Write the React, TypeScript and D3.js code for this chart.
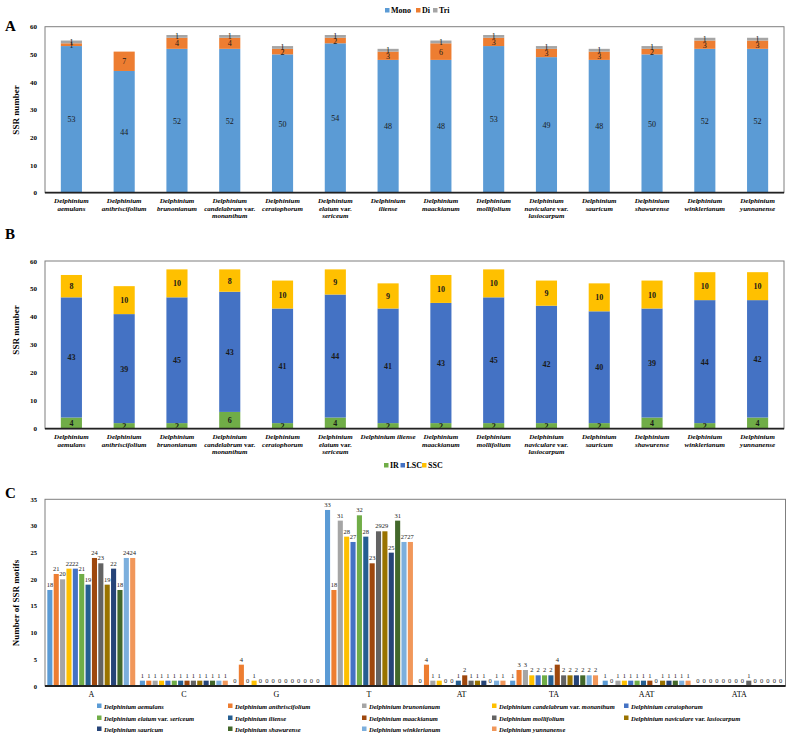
import React from "react";
import * as d3 from "d3";

const species = [
  "aemulans", "anthriscifolium", "brunonianum", "candelabrum var. monanthum", "ceratophorum",
  "elatum var. sericeum", "iliense", "maackianum", "mollifolium", "naviculare var. lasiocarpum",
  "sauricum", "shawurense", "winklerianum", "yunnanense",
];
// x labels (lines) for panel A and B
const labelsA: string[][] = [
  ["Delphinium", "aemulans"], ["Delphinium", "anthriscifolium"], ["Delphinium", "brunonianum"],
  ["Delphinium", "candelabrum var.", "monanthum"], ["Delphinium", "ceratophorum"],
  ["Delphinium", "elatum  var.", "sericeum"], ["Delphinium", "iliense"], ["Delphinium", "maackianum"],
  ["Delphinium", "mollifolium"], ["Delphinium", "naviculare  var.", "lasiocarpum"], ["Delphinium", "sauricum"],
  ["Delphinium", "shawurense"], ["Delphinium", "winklerianum"], ["Delphinium", "yunnanense"],
];
const labelsB: string[][] = [
  ["Delphinium", "aemulans"], ["Delphinium", "anthriscifolium"], ["Delphinium", "brunonianum"],
  ["Delphinium", "candelabrum var.", "monanthum"], ["Delphinium", "ceratophorum"],
  ["Delphinium", "elatum var.", "sericeum"], ["Delphinium iliense"], ["Delphinium", "maackianum"],
  ["Delphinium", "mollifolium"], ["Delphinium", "naviculare var.", "lasiocarpum"], ["Delphinium", "sauricum"],
  ["Delphinium", "shawurense"], ["Delphinium", "winklerianum"], ["Delphinium", "yunnanense"],
];

// Panel A
const monoCounts = [53, 44, 52, 52, 50, 54, 48, 48, 53, 49, 48, 50, 52, 52];
const diCounts = [1, 7, 4, 4, 2, 2, 3, 6, 3, 3, 3, 2, 3, 3];
const triCounts = [1, 0, 1, 1, 1, 1, 1, 1, 1, 1, 1, 1, 1, 1];
const seriesA = ["Mono", "Di", "Tri"];
const colorsA = ["#5B9BD5", "#ED7D31", "#A5A5A5"];

// Panel B
const irCounts = [4, 2, 2, 6, 2, 4, 2, 2, 2, 2, 2, 4, 2, 4];
const lscCounts = [43, 39, 45, 43, 41, 44, 41, 43, 45, 42, 40, 39, 44, 42];
const sscCounts = [8, 10, 10, 8, 10, 9, 9, 10, 10, 9, 10, 10, 10, 10];
const seriesB = ["IR", "LSC", "SSC"];
const colorsB = ["#70AD47", "#4472C4", "#FFC000"];

// Panel C
const motifs = ["A", "C", "G", "T", "AT", "TA", "AAT", "ATA"];
const motifA = [18, 21, 20, 22, 22, 21, 19, 24, 23, 19, 22, 18, 24, 24];
const motifC = [1, 1, 1, 1, 1, 1, 1, 1, 1, 1, 1, 1, 1, 1];
const motifG = [0, 4, 0, 1, 0, 0, 0, 0, 0, 0, 0, 0, 0, 0];
const motifT = [33, 18, 31, 28, 27, 32, 28, 23, 29, 29, 25, 31, 27, 27];
const motifAT = [0, 4, 1, 1, 0, 0, 1, 2, 1, 1, 1, 0, 1, 1];
const motifTA = [1, 3, 3, 2, 2, 2, 2, 4, 2, 2, 2, 2, 2, 2];
const motifAAT = [1, 0, 1, 1, 1, 1, 1, 1, 0, 1, 1, 1, 1, 1];
const motifATA = [0, 0, 0, 0, 0, 0, 0, 0, 1, 0, 0, 0, 0, 0];
const colorsC = [
  "#5B9BD5", "#ED7D31", "#A5A5A5", "#FFC000", "#4472C4", "#70AD47", "#255E91",
  "#9E480E", "#636363", "#997300", "#264478", "#43682B", "#7CAFDD", "#F1975A",
];

const FONT = "'Liberation Serif', 'Times New Roman', serif";
const W = 798, H = 744;

function StackedPanel(props: {
  top: number; bottom: number; left: number; right: number;
  series: number[][]; colors: string[]; labels: string[][]; boldLabels: boolean;
}) {
  const { top, bottom, left, right, series, colors, labels, boldLabels } = props;
  const x = d3.scaleBand<number>().domain(d3.range(species.length)).range([left, right]).paddingInner(0.6).paddingOuter(0.3);
  const y = d3.scaleLinear().domain([0, 60]).range([bottom, top]);
  const rows = species.map((_, i) => {
    const o: any = { i };
    series.forEach((s, k) => (o["s" + k] = s[i]));
    return o;
  });
  const stack = d3.stack<any>().keys(series.map((_, k) => "s" + k))(rows);
  const ticks = y.ticks(6);
  return (
    <g>
      <rect x={left} y={top} width={right - left} height={bottom - top} fill="none" stroke="#7f7f7f" strokeWidth={1} />
      {ticks.map((t) => (
        <text key={t} x={left - 8} y={y(t) + 2.5} fontSize={7} fontWeight="bold" textAnchor="end" fontFamily={FONT} fill="#000">{t}</text>
      ))}
      {stack.map((layer, k) => (
        <g key={k}>
          {layer.map((d, i) => (
            d[1] - d[0] > 0 ? (
              <rect key={i} x={x(i)!} y={y(d[1])} width={x.bandwidth()} height={y(d[0]) - y(d[1])} fill={colors[k]} />
            ) : null
          ))}
        </g>
      ))}
      {stack.map((layer, k) => (
        <g key={"l" + k}>
          {layer.map((d, i) => (
            d[1] - d[0] > 0 ? (
              <text key={i} x={x(i)! + x.bandwidth() / 2} y={y((d[0] + d[1]) / 2) + 3} fontSize={8}
                fontWeight={boldLabels ? "bold" : "normal"} textAnchor="middle" fontFamily={FONT} fill="#1a1a1a">
                {d[1] - d[0]}
              </text>
            ) : null
          ))}
        </g>
      ))}
      <line x1={left} x2={right} y1={bottom} y2={bottom} stroke="#222" strokeWidth={1.8} />
      {labels.map((lines, i) => (
        <text key={i} x={x(i)! + x.bandwidth() / 2} y={bottom + 10} fontSize={7} fontWeight="bold"
          fontStyle="italic" textAnchor="middle" fontFamily={FONT} fill="#000">
          {lines.map((ln, j) => {
            const parts = ln.split("var.");
            return (
              <tspan key={j} x={x(i)! + x.bandwidth() / 2} dy={j === 0 ? 0 : 7.8}>
                {parts.length > 1 ? (<>{parts[0]}<tspan fontStyle="normal">var.</tspan>{parts[1]}</>) : ln}
              </tspan>
            );
          })}
        </text>
      ))}
    </g>
  );
}

function Legend3(props: { names: string[]; colors: string[]; xs: number[]; y: number }) {
  return (
    <g>
      {props.names.map((n, i) => (
        <g key={n}>
          <rect x={props.xs[i]} y={props.y - 3} width={4.5} height={4.5} fill={props.colors[i]} />
          <text x={props.xs[i] + 6} y={props.y + 2} fontSize={8} fontWeight="bold" fontFamily={FONT} fill="#000">{n}</text>
        </g>
      ))}
    </g>
  );
}

export default function App() {
  const left = 45, right = 784;
  // Panel C
  const cTop = 499.3, cBottom = 686, cRight = 785.5;
  const motifData = [motifA, motifC, motifG, motifT, motifAT, motifTA, motifAAT, motifATA];
  const x0 = d3.scaleBand<string>().domain(motifs).range([left, cRight]).paddingInner(0.05).paddingOuter(0.025);
  const x1 = d3.scaleBand<number>().domain(d3.range(species.length)).range([0, x0.bandwidth()]).paddingInner(0.2);
  const yC = d3.scaleLinear().domain([0, 35]).range([cBottom, cTop]);
  const legendColX = [97, 228, 362, 492, 624];
  const legendRowY = [706.5, 718.5, 729.5];

  return (
    <svg width={W} height={H} style={{ position: "absolute", left: 0, top: 0, background: "#fff" }}>
      <rect width={W} height={H} fill="#fff" />
      {/* Panel A */}
      <text x={5} y={31} fontSize={15} fontWeight="bold" fontFamily={FONT} fill="#000">A</text>
      <Legend3 names={seriesA} colors={colorsA} xs={[385, 416, 433]} y={11} />
      <text transform="translate(19,110) rotate(-90)" fontSize={9} fontWeight="bold" textAnchor="middle" fontFamily={FONT} fill="#000">SSR number</text>
      <StackedPanel top={26.7} bottom={192.7} left={left} right={right} series={[monoCounts, diCounts, triCounts]}
        colors={colorsA} labels={labelsA} boldLabels={false} />

      {/* Panel B */}
      <text x={5} y={239} fontSize={15} fontWeight="bold" fontFamily={FONT} fill="#000">B</text>
      <text transform="translate(19,330) rotate(-90)" fontSize={9} fontWeight="bold" textAnchor="middle" fontFamily={FONT} fill="#000">SSR number</text>
      <StackedPanel top={261} bottom={428.7} left={left} right={right} series={[irCounts, lscCounts, sscCounts]}
        colors={colorsB} labels={labelsB} boldLabels={true} />
      <Legend3 names={seriesB} colors={colorsB} xs={[384, 400.5, 422]} y={466} />

      {/* Panel C */}
      <text x={5} y={498} fontSize={15} fontWeight="bold" fontFamily={FONT} fill="#000">C</text>
      <text transform="translate(19,603) rotate(-90)" fontSize={9} fontWeight="bold" textAnchor="middle" fontFamily={FONT} fill="#000">Number of SSR motifs</text>
      <rect x={left} y={cTop} width={cRight - left} height={cBottom - cTop} fill="none" stroke="#7f7f7f" strokeWidth={1} />
      {yC.ticks(7).map((t) => (
        <text key={t} x={left - 8} y={yC(t) + 2.5} fontSize={6.5} fontWeight="bold" textAnchor="end" fontFamily={FONT} fill="#000">{t}</text>
      ))}
      {motifs.map((m, gi) => (
        <g key={m} transform={`translate(${x0(m)},0)`}>
          {motifData[gi].map((v, si) => (
            <g key={si}>
              {v > 0 && (
                <rect x={x1(si)!} y={yC(v)} width={x1.bandwidth()} height={yC(0) - yC(v)} fill={colorsC[si]} />
              )}
              <text x={x1(si)! + x1.bandwidth() / 2} y={yC(v) - 3} fontSize={6.5} textAnchor="middle" fontFamily={FONT} fill="#222">{v}</text>
            </g>
          ))}
          <text x={x0.bandwidth() / 2} y={cBottom + 11} fontSize={8} textAnchor="middle" fontFamily={FONT} fill="#000">{m}</text>
        </g>
      ))}
      <line x1={left} x2={cRight} y1={cBottom} y2={cBottom} stroke="#222" strokeWidth={1.8} />
      {species.map((s, i) => {
        const col = i % 5, row = Math.floor(i / 5);
        const parts = s.split("var.");
        return (
          <g key={s}>
            <rect x={legendColX[col]} y={legendRowY[row] - 3} width={4.5} height={4.5} fill={colorsC[i]} />
            <text x={legendColX[col] + 7} y={legendRowY[row] + 2} fontSize={6.5} fontWeight="bold" fontStyle="italic" fontFamily={FONT} fill="#000">
              {"Delphinium " + parts[0]}
              {parts.length > 1 ? (<><tspan fontStyle="normal">var.</tspan>{parts[1]}</>) : null}
            </text>
          </g>
        );
      })}
    </svg>
  );
}
